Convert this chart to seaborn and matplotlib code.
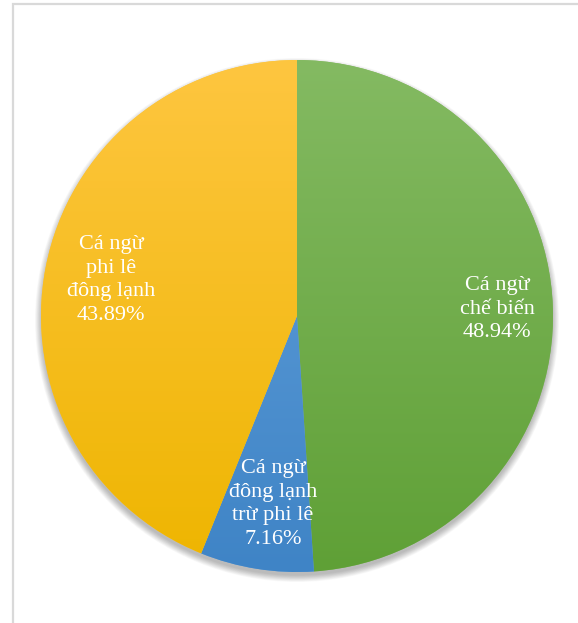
import glob
import numpy as np
import matplotlib
matplotlib.use("Agg")
import matplotlib.pyplot as plt
import seaborn as sns
from matplotlib.colors import LinearSegmentedColormap
from matplotlib.patches import Rectangle, Circle
from matplotlib import font_manager

sns.set_theme(style="white")
font_files = (glob.glob("/usr/share/fonts/**/*.tt[fc]", recursive=True)
              + glob.glob("/usr/local/share/fonts/**/*.tt[fc]", recursive=True))
serif_file = None
for p in font_files:
    if "liberationserif-regular" in p.lower():
        serif_file = p
        break
if serif_file:
    font_manager.fontManager.addfont(serif_file)
    fam = font_manager.FontProperties(fname=serif_file).get_name()
else:
    fam = "Liberation Serif"
plt.rcParams['font.family'] = [fam, 'DejaVu Serif']

categories = ["Cá ngừ\nchế biến", "Cá ngừ\nđông lạnh\ntrừ phi lê", "Cá ngừ\nphi lê\nđông lạnh"]
values = [48.94, 7.16, 43.89]
top_colors = ["#84ba62", "#64a2dc", "#fec640"]
bottom_colors = ["#5fa036", "#3f84c6", "#eeb500"]
label_pos = [(497, 309), (273, 504), (111, 280)]  # pixel positions (from top-left)

W, H = 578, 623
fig = plt.figure(figsize=(W / 100, H / 100), dpi=100)
ax = fig.add_axes([0, 0, 1, 1])

cx, cy, r = 297, H - 316, 256

# frame
ax.add_patch(Rectangle((13, -10), W + 20, (H - 4) + 10, fill=False, edgecolor="#d9d9d9", lw=1.6, zorder=0))

# soft shadow
for i in range(12):
    ax.add_patch(Circle((cx, cy - 4), r + 6 - i * 0.6, facecolor="black", edgecolor="none", alpha=0.025, zorder=1))

wedges, _ = ax.pie(values, startangle=90, counterclock=False, center=(cx, cy), radius=r,
                   colors=top_colors, wedgeprops=dict(linewidth=0), frame=True)

grad = np.linspace(0, 1, 256).reshape(-1, 1)
for w, tc, bc in zip(wedges, top_colors, bottom_colors):
    cmap = LinearSegmentedColormap.from_list("g", [tc, bc])
    w.set_zorder(2)
    im = ax.imshow(grad, cmap=cmap, extent=(cx - r, cx + r, cy - r, cy + r), origin="upper",
                   aspect="auto", zorder=3, interpolation="bilinear")
    im.set_clip_path(w)

for (lx, ly), cat, v in zip(label_pos, categories, values):
    ax.text(lx, H - ly, f"{cat}\n{v:.2f}%", ha="center", va="center", color="white",
            fontsize=16, linespacing=1.35, zorder=5, family=[fam, 'DejaVu Serif'])

ax.set_xlim(0, W)
ax.set_ylim(0, H)
ax.set_aspect("equal")
ax.axis("off")
fig.savefig("out.png", dpi=100, facecolor="white")
